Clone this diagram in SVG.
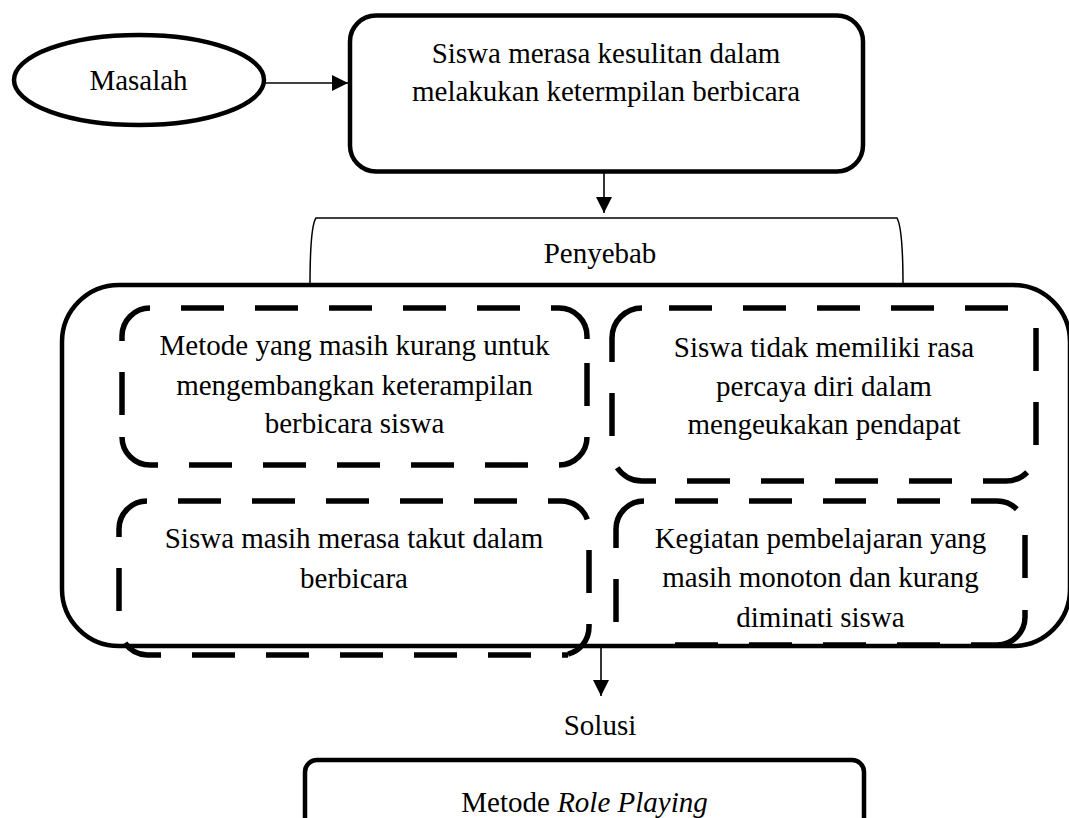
<svg xmlns="http://www.w3.org/2000/svg" width="1069" height="818" viewBox="0 0 1069 818">
<style>
text{font-family:"Liberation Serif","Times New Roman",serif;font-size:29px;fill:#000;text-anchor:middle}
.solid{fill:none;stroke:#000;stroke-width:4.5}
.c{fill:none;stroke:#000;stroke-width:5.5}
.d{fill:none;stroke:#000;stroke-width:5.5;stroke-dasharray:43 31;stroke-dashoffset:43}
.thin{fill:none;stroke:#000;stroke-width:1.5}
.conn{fill:none;stroke:#000;stroke-width:1.6}
</style>
<defs>
<marker id="ah" markerUnits="userSpaceOnUse" markerWidth="16" markerHeight="16" viewBox="0 0 16 16" refX="16" refY="8" orient="auto"><path d="M0,0 L16,8 L0,16 Z" fill="#000"/></marker>
</defs>
<rect width="1069" height="818" fill="#fff"/>
<g id="penyebab">
<path class="thin" d="M310,286 C310,250 311,225 316,218 L897,218 C901,225 903,250 903,286"/>
<text x="600" y="263">Penyebab</text>
</g>
<g id="causes-frame">
<rect class="solid" x="62" y="285" width="1008" height="361" rx="57"/>
</g>
<g id="masalah">
<ellipse class="solid" cx="139" cy="80" rx="125" ry="45"/>
<text x="138.5" y="90">Masalah</text>
</g>
<g id="problem">
<rect class="solid" x="350" y="15.5" width="513" height="156" rx="26"/>
<text x="606" y="63">Siswa merasa kesulitan dalam</text>
<text x="606" y="101">melakukan ketermpilan berbicara</text>
</g>
<g id="cause1">
<path class="c" d="M122,341 V336 A28,28 0 0 1 150,308 M559,308 A28,28 0 0 1 587,336 V339 M587,437 A28,28 0 0 1 559,465 M158,465 H150 A28,28 0 0 1 122,437"/>
<line class="d" x1="150" y1="308" x2="559" y2="308"/>
<line class="d" x1="587" y1="339" x2="587" y2="437" style="stroke-dashoffset:50"/>
<line class="d" x1="158" y1="465" x2="559" y2="465"/>
<line class="d" x1="122" y1="341" x2="122" y2="437"/>
<text x="354.5" y="355">Metode yang masih kurang untuk</text>
<text x="354.5" y="395">mengembangkan keterampilan</text>
<text x="354.5" y="433">berbicara siswa</text>
</g>
<g id="cause2">
<path class="c" d="M612,362 V338 A30,30 0 0 1 642,308 M1027.2,472.2 A30,30 0 0 1 1006,481 H988 M617.2,467.8 A30,30 0 0 0 642,481 H656"/>
<line class="d" x1="642" y1="308" x2="1010" y2="308" style="stroke-dashoffset:47"/>
<line class="d" x1="1036" y1="328" x2="1036" y2="451" style="stroke-dashoffset:0"/>
<line class="d" x1="656" y1="481" x2="988" y2="481"/>
<line class="d" x1="612" y1="362" x2="612" y2="451"/>
<text x="824" y="357">Siswa tidak memiliki rasa</text>
<text x="824" y="396">percaya diri dalam</text>
<text x="824" y="434">mengeukakan pendapat</text>
</g>
<g id="cause3">
<path class="c" d="M119,537 V529 A28,28 0 0 1 147,501 M561,501 A28,28 0 0 1 587.3,519.4 M589,627 A28,28 0 0 1 568,654.1 M125,643 A28,28 0 0 0 147,655 H161"/>
<line class="d" x1="147" y1="501" x2="561" y2="501"/>
<line class="d" x1="589" y1="519" x2="589" y2="627"/>
<line class="d" x1="161" y1="655" x2="568" y2="655"/>
<line class="d" x1="119" y1="537" x2="119" y2="627"/>
<text x="354" y="548">Siswa masih merasa takut dalam</text>
<text x="354" y="588">berbicara</text>
</g>
<g id="cause4">
<path class="c" d="M616,548 V529 A28,28 0 0 1 644,501 M975,501 H997 A28,28 0 0 1 1016.8,509.2 M1025,535 V578 M1025,610 V617 A28,28 0 0 1 997,645"/>
<line class="d" x1="644" y1="501" x2="975" y2="501"/>
<line class="d" x1="644" y1="645" x2="997" y2="645"/>
<line class="d" x1="616" y1="548" x2="616" y2="623"/>
<text x="820.5" y="548">Kegiatan pembelajaran yang</text>
<text x="820.5" y="587">masih monoton dan kurang</text>
<text x="820.5" y="627">diminati siswa</text>
</g>
<g id="solusi-label">
<text x="600" y="735">Solusi</text>
</g>
<g id="solution">
<rect class="solid" x="305" y="760" width="559" height="80" rx="12"/>
<text x="584.5" y="812">Metode <tspan font-style="italic">Role Playing</tspan></text>
</g>
<g id="connectors">
<line class="conn" x1="264" y1="83" x2="348" y2="83" marker-end="url(#ah)"/>
<line class="conn" x1="604" y1="173" x2="604" y2="213" marker-end="url(#ah)"/>
<line class="conn" x1="601" y1="647" x2="601" y2="696" marker-end="url(#ah)"/>
</g>
</svg>
